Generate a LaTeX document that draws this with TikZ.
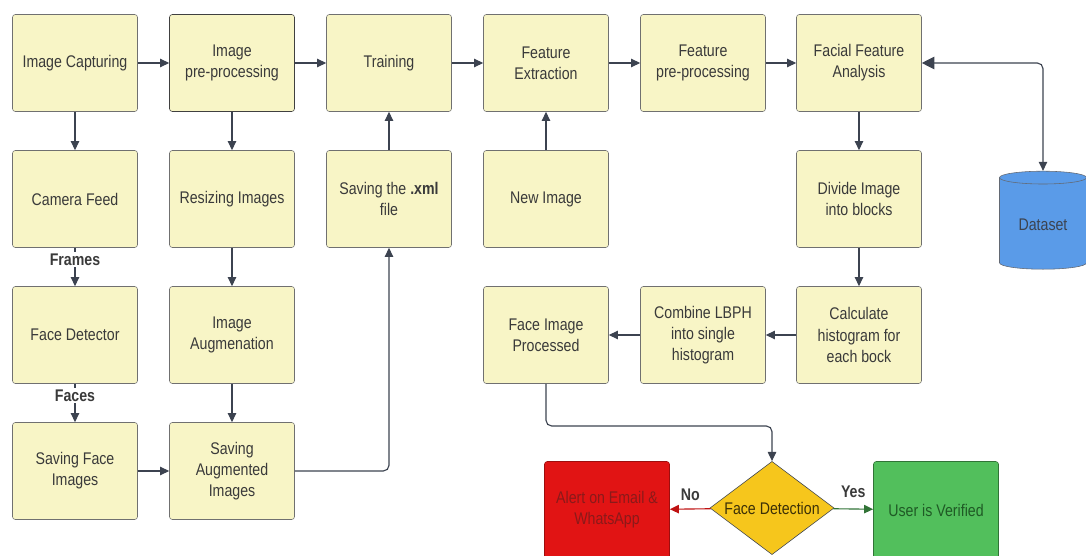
\documentclass[tikz,border=0pt]{standalone}
\usepackage{fontspec}
\setmainfont[FakeStretch=0.84]{Liberation Sans}
\usepackage{xcolor}
\usetikzlibrary{arrows.meta,shapes.geometric}

\definecolor{boxfill}{HTML}{F8F5C6}
\definecolor{boxline}{HTML}{707070}
\definecolor{arrowcol}{HTML}{3C4350}
\definecolor{txt}{HTML}{3A3A3A}
\definecolor{alertred}{HTML}{E11414}
\definecolor{alerttxt}{HTML}{8A1A1A}
\definecolor{okgreen}{HTML}{52BF5C}
\definecolor{oktxt}{HTML}{1F5A25}
\definecolor{decyellow}{HTML}{F6C61C}
\definecolor{dbblue}{HTML}{5A9BE8}

\begin{document}
\begin{tikzpicture}[x=0.025cm,y=-0.025cm,
  proc/.style={draw=boxline,fill=boxfill,rounded corners=2pt,minimum width=3.125cm,minimum height=2.425cm,
    align=center,text=txt,font=\fontsize{12}{15}\selectfont},
  flow/.style={draw=arrowcol,line width=0.8pt,-{Triangle[length=6.5pt,width=6pt]}},
  lbl/.style={fill=white,text=txt,inner sep=1pt,font=\bfseries\fontsize{12}{14}\selectfont}]
  \useasboundingbox (0,0) rectangle (1086,556);

  \node[proc] (capt) at (75,63) {Image Capturing};
  \node[proc,draw=black!75] (prep) at (232,63) {Image\\pre-processing};
  \node[proc] (train) at (389,63) {Training};
  \node[proc] (fext) at (546,63) {Feature\\Extraction};
  \node[proc] (fprep) at (703,63) {Feature\\pre-processing};
  \node[proc] (facial) at (859,63) {Facial Feature\\Analysis};

  \node[proc] (cam) at (75,199) {Camera Feed};
  \node[proc] (resize) at (232,199) {Resizing Images};
  \node[proc] (savxml) at (389,199) {Saving the \textbf{.xml}\\file};
  \node[proc] (newimg) at (546,199) {New Image};
  \node[proc] (divide) at (859,199) {Divide Image\\into blocks};

  \node[proc] (detect) at (75,335) {Face Detector};
  \node[proc] (augm) at (232,335) {Image\\Augmenation};
  \node[proc] (faceproc) at (546,335) {Face Image\\Processed};
  \node[proc] (combine) at (703,335) {Combine LBPH\\into single\\histogram};
  \node[proc] (hist) at (859,335) {Calculate\\histogram for\\each bock};

  \node[proc] (savface) at (75,471) {Saving Face\\Images};
  \node[proc] (savaug) at (232,471) {Saving\\Augmented\\Images};

  \node[cylinder,shape border rotate=90,aspect=0.22,draw=arrowcol!80,fill=dbblue,minimum width=2.175cm,
    minimum height=2.45cm,text=arrowcol,font=\fontsize{12}{15}\selectfont] (data) at (1043,225) {Dataset};

  \node[diamond,aspect=1.33,inner sep=0pt,draw=arrowcol,fill=decyellow,minimum width=3.1cm,minimum height=2.33cm,
    text=black!75!decyellow,font=\fontsize{12}{15}\selectfont] (decide) at (772,508) {Face Detection};
  \node[proc,draw=alertred!70!black,fill=alertred,text=alerttxt] (alert) at (607,510) {Alert on Email \&\\WhatsApp};
  \node[proc,draw=okgreen!60!black,fill=okgreen,text=oktxt] (verif) at (936,510) {User is Verified};

  \draw[flow] (capt) -- (prep);
  \draw[flow] (prep) -- (train);
  \draw[flow] (train) -- (fext);
  \draw[flow] (fext) -- (fprep);
  \draw[flow] (fprep) -- (facial);

  \draw[flow] (capt) -- (cam);
  \draw[flow] (cam) -- node[lbl,pos=0.3] {Frames} (detect);
  \draw[flow] (detect) -- node[lbl,pos=0.3] {Faces} (savface);
  \draw[flow] (savface) -- (savaug);

  \draw[flow] (prep) -- (resize);
  \draw[flow] (resize) -- (augm);
  \draw[flow] (augm) -- (savaug);
  \draw[flow,rounded corners=4pt] (savaug.east) -| (savxml.south);
  \draw[flow] (savxml) -- (train);
  \draw[flow] (newimg) -- (fext);

  \draw[draw=arrowcol,line width=0.8pt,rounded corners=4pt,{Triangle[length=9pt,width=9pt]}-{Triangle[length=6.5pt,width=6pt]}]
    (facial.east) -| (data.north);
  \draw[flow] (facial) -- (divide);
  \draw[flow] (divide) -- (hist);
  \draw[flow] (hist) -- (combine);
  \draw[flow] (combine) -- (faceproc);
  \draw[flow,rounded corners=4pt] (faceproc.south) |- (772,426) -- (decide.north);

  \draw[flow,draw=alertred!85!black] (decide) -- node[above=2pt,text=txt,font=\bfseries\fontsize{12}{14}\selectfont] {No} (alert);
  \draw[flow,draw=okgreen!60!black] (decide) -- node[above=4pt,text=txt,font=\bfseries\fontsize{12}{14}\selectfont] {Yes} (verif);
\end{tikzpicture}
\end{document}
